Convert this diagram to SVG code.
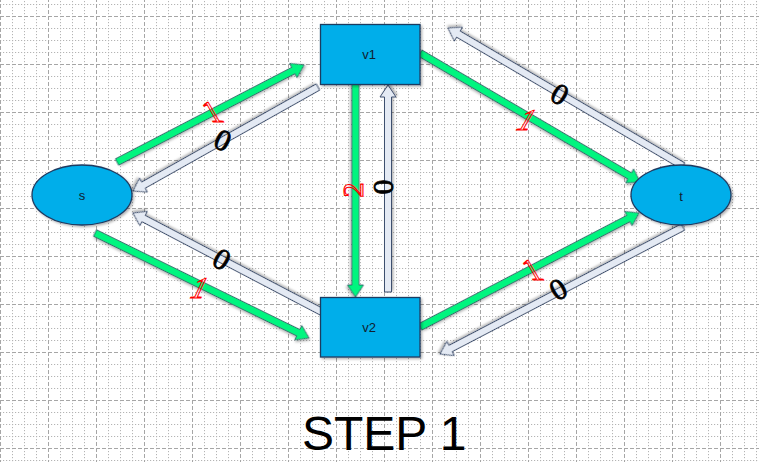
<svg xmlns="http://www.w3.org/2000/svg" width="759" height="462" viewBox="0 0 759 462">
  <defs>
    <pattern id="grid" patternUnits="userSpaceOnUse" x="0" y="16" width="48" height="48">
      <g stroke="#B4B4B4" stroke-width="1" fill="none">
        <path d="M12.5,0V48M24.5,0V48M36.5,0V48M0,12.5H48M0,24.5H48M0,36.5H48" stroke-dasharray="1.2 1.8"/>
        <path d="M0.5,0V48M0,0.5H48" stroke-dasharray="4 2" stroke="#A6A6A6"/>
      </g>
    </pattern>
    <filter id="sh" x="-20%" y="-20%" width="140%" height="140%">
      <feDropShadow dx="1.5" dy="1.5" stdDeviation="1" flood-color="#000" flood-opacity="0.3"/>
    </filter>
  </defs>
  <style>
    .node { fill: #00AEEA; stroke: #1F3A60; stroke-width: 1.3; filter: url(#sh); }
    .nl { font-family: "Liberation Sans", Arial, sans-serif; font-size: 13px; fill: #10202F; text-anchor: middle; dominant-baseline: central; }
    .g { fill: #00F57F; stroke: #2A5060; stroke-width: 0.8; filter: url(#sh); }
    .p { fill: #E4EAF4; stroke: #3E4F6E; stroke-width: 1; filter: url(#sh); }
    .one { font-family: "Liberation Serif", "Times New Roman", serif; font-size: 30px; fill: none; stroke: #FF0000; stroke-width: 1.1; text-anchor: middle; dominant-baseline: central; }
    .zero { font-family: "Liberation Serif", "Times New Roman", serif; font-size: 30px; fill: #000; stroke: #000; stroke-width: 0.8; text-anchor: middle; dominant-baseline: central; }
    .title { font-family: "Liberation Sans", Arial, sans-serif; font-size: 48px; fill: #000; }
  </style>
  <rect width="759" height="462" fill="#FFFFFF"/>
  <rect width="759" height="462" fill="url(#grid)"/>

  <g id="connectors">
    <path class="g" transform="translate(117,162) rotate(-27.42)" d="M0,-3.5H198.7V-8L210.7,0L198.7,8V3.5H0Z"/>
    <path class="p" transform="translate(318,87) rotate(150.66)" d="M0,-3.5H200.2V-8L212.2,0L200.2,8V3.5H0Z"/>
    <path class="g" transform="translate(355.5,84) rotate(90)" d="M0,-3.5H201V-8L213,0L201,8V3.5H0Z"/>
    <path class="p" transform="translate(388,292) rotate(-90)" d="M0,-3.5H195V-8L207,0L195,8V3.5H0Z"/>
    <path class="g" transform="translate(420,53) rotate(30.38)" d="M0,-3.5H243V-8L255,0L243,8V3.5H0Z"/>
    <path class="p" transform="translate(683,166) rotate(-149.58)" d="M0,-3.5H260.5V-8L272.5,0L260.5,8V3.5H0Z"/>
    <path class="g" transform="translate(95,233) rotate(26.13)" d="M0,-3.5H226.4V-8L238.4,0L226.4,8V3.5H0Z"/>
    <path class="p" transform="translate(322,312) rotate(-152.35)" d="M0,-3.5H201.4V-8L213.4,0L201.4,8V3.5H0Z"/>
    <path class="g" transform="translate(420,327) rotate(-27.5)" d="M0,-3.5H234.9V-8L246.9,0L234.9,8V3.5H0Z"/>
    <path class="p" transform="translate(683,227) rotate(152.4)" d="M0,-3.5H262.2V-8L274.2,0L262.2,8V3.5H0Z"/>

    <text class="one" transform="translate(212,112) skewX(30)">1</text>
    <text class="zero" transform="translate(223,140) rotate(25)">0</text>
    <text class="one" transform="translate(352,190) rotate(-90)">2</text>
    <text class="zero" transform="translate(384,187) rotate(90)">0</text>
    <text class="zero" transform="translate(560,94) rotate(30)">0</text>
    <text class="one" transform="translate(527,120) skewX(-30)">1</text>
    <text class="zero" transform="translate(222,259) rotate(30)">0</text>
    <text class="one" transform="translate(200,288) skewX(-25)">1</text>
    <text class="one" transform="translate(532,270) skewX(30)">1</text>
    <text class="zero" transform="translate(558,289) rotate(-30)">0</text>
  </g>

  <g id="node-s">
    <ellipse class="node" cx="82" cy="195" rx="50" ry="30"/>
    <text class="nl" x="82" y="195">s</text>
  </g>
  <g id="node-v1">
    <rect class="node" x="320.5" y="24.5" width="99.5" height="60"/>
    <text class="nl" x="369" y="54">v1</text>
  </g>
  <g id="node-v2">
    <rect class="node" x="320.5" y="297.5" width="99.5" height="59.5"/>
    <text class="nl" x="369" y="327">v2</text>
  </g>
  <g id="node-t">
    <ellipse class="node" cx="681" cy="195" rx="50" ry="30"/>
    <text class="nl" x="681" y="196">t</text>
  </g>

  <text class="title" x="302" y="450">STEP 1</text>
</svg>
